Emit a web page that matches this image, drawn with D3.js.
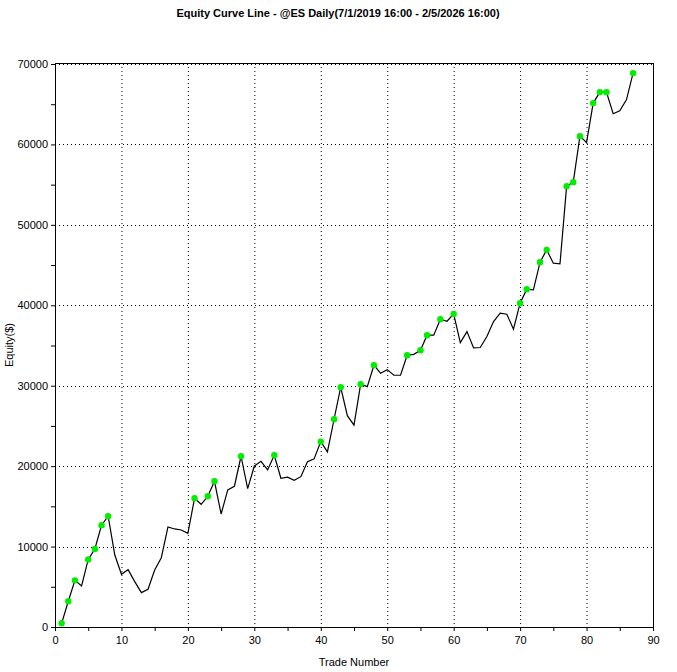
<!DOCTYPE html><html><head><meta charset="utf-8"><script src="https://cdn.jsdelivr.net/npm/d3@7"></script>
<style>body{margin:0;background:#fff}text{font-family:"Liberation Sans",Arial,sans-serif;font-size:11px}</style></head><body><svg id="c" width="677" height="672"></svg><script>
const trades=d3.range(1,88);
const equity=[460,3200,5800,5100,8400,9700,12650,13770,8950,6550,7130,5640,4270,4690,7090,8620,12440,12190,12060,11650,16000,15260,16250,18120,14050,17040,17500,21230,17200,20020,20600,19530,21350,18490,18620,18240,18690,20560,20900,23050,21770,25830,29810,26280,25090,30190,29890,32550,31560,32000,31300,31300,33790,33900,34410,36280,36280,38270,38020,38930,35360,36730,34700,34750,36110,37970,39010,38890,37030,40260,42000,41910,45360,46890,45230,45150,54810,55310,61030,60240,65140,66500,66500,63810,64180,65550,68870];
const highs=[1,2,3,5,6,7,8,21,23,24,28,33,40,42,43,46,48,53,55,56,58,60,70,71,73,74,77,78,79,81,82,83,87];
const xTicks=d3.range(0,91,10), yTicks=d3.range(0,70001,10000);
const svg=d3.select("#c");
const L=55,R=653,T=63,B=627;
const x=d3.scaleLinear().domain([0,90]).range([L,R]);
const y=d3.scaleLinear().domain([0,70000]).range([B,T+1]);
const g=svg.append("g");
// grid
g.selectAll(".gx").data(xTicks.slice(1,-1)).join("line").attr("x1",d=>x(d)+.5).attr("x2",d=>x(d)+.5).attr("y1",T).attr("y2",B).attr("stroke","#000").attr("stroke-dasharray","1,3");
g.selectAll(".gy").data(yTicks.slice(1)).join("line").attr("y1",d=>Math.round(y(d))+.5).attr("y2",d=>Math.round(y(d))+.5).attr("x1",L).attr("x2",R).attr("stroke","#000").attr("stroke-dasharray","1,3");
svg.append("g").attr("transform",`translate(0,${B})`).call(d3.axisBottom(x).tickValues(d3.range(0,91,5)).tickFormat(d=>d%10?"":d).tickSize(4).tickSizeOuter(0)).call(a=>a.select(".domain").remove()).selectAll("text").attr("dy","0.9em");
svg.append("g").attr("transform",`translate(${L},0)`).call(d3.axisLeft(y).tickValues(d3.range(0,70001,5000)).tickFormat(d=>d%10000?"":d).tickSize(4).tickSizeOuter(0)).call(a=>a.select(".domain").remove());
svg.selectAll(".tick text").style("font-size","11px").attr("fill","#000");
svg.append("rect").attr("x",L+.5).attr("y",T+.5).attr("width",R-L).attr("height",B-T).attr("fill","none").attr("stroke","#000");
svg.append("path").datum(trades.map((t,i)=>[t,equity[i]])).attr("d",d3.line().x(d=>x(d[0])).y(d=>y(d[1]))).attr("fill","none").attr("stroke","#000").attr("stroke-width",1.2);
svg.selectAll(".dot").data(highs).join("circle").attr("cx",d=>x(d)).attr("cy",d=>y(equity[d-1])).attr("r",3.2).attr("fill","#00ee00");
svg.append("text").attr("x",338).attr("y",17).attr("text-anchor","middle").style("font-weight","bold").text("Equity Curve Line - @ES Daily(7/1/2019 16:00 - 2/5/2026 16:00)");
svg.append("text").attr("x",354).attr("y",666).attr("text-anchor","middle").text("Trade Number");
svg.append("text").attr("transform","translate(13,345) rotate(-90)").attr("text-anchor","middle").text("Equity($)");
</script></body></html>
